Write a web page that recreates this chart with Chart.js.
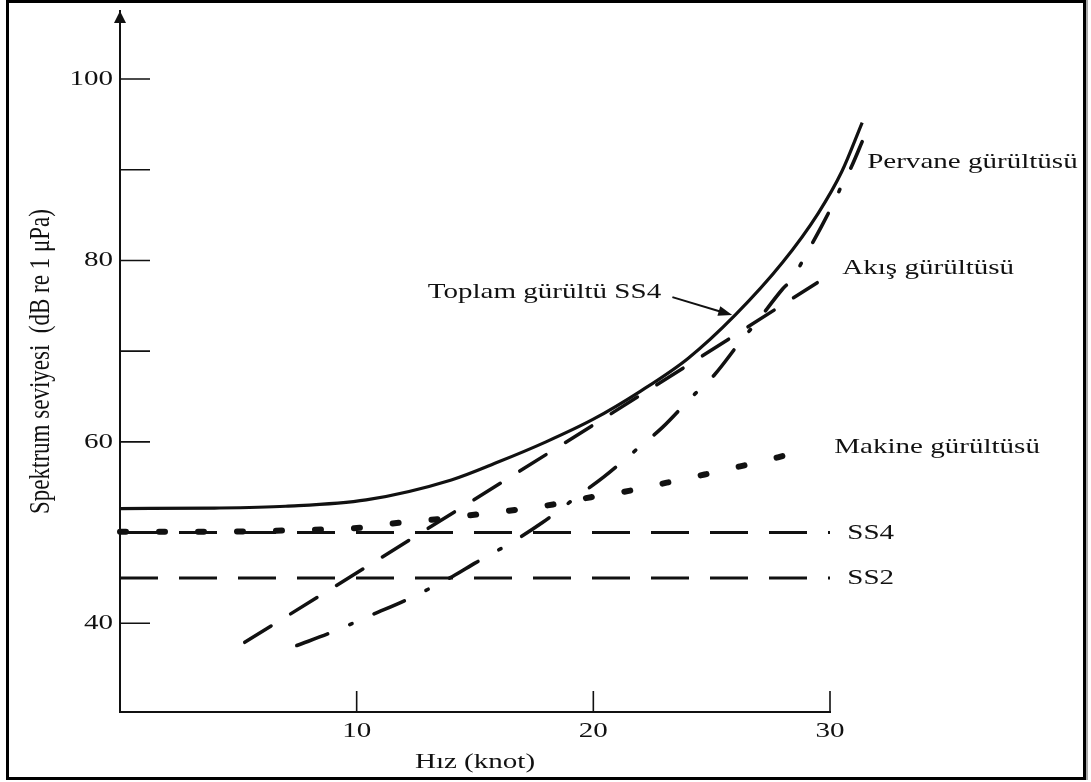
<!DOCTYPE html>
<html>
<head>
<meta charset="utf-8">
<script src="https://cdn.jsdelivr.net/npm/chart.js@4.4.1/dist/chart.umd.min.js"></script>
<style>
  html, body { margin: 0; padding: 0; background: #fff; }
  #wrap { position: relative; width: 1091px; height: 782px; }
  #frame { position: absolute; left: 6px; top: 0; width: 1080px; height: 780px; box-sizing: border-box;
           border: 3px solid #000; box-shadow: 2px 0 0 #aaa; pointer-events: none; }
</style>
</head>
<body>
<div id="wrap">
  <canvas id="noiseChart" width="1091" height="782"></canvas>
  <div id="frame"></div>
</div>
<script>
// hız (knot) / seviye (dB) okumaları
const toplamSpeed = [0, 4, 7, 10.4, 14, 16, 18, 20, 22, 24, 26, 28, 29.5, 30.5, 31.36];
const toplamLevel = [52.65, 52.7, 52.9, 53.6, 55.8, 57.8, 60.0, 62.5, 65.6, 69.2, 74.0, 79.8, 85.2, 89.8, 95.2];

const pervaneSpeed = [7.47, 8.94, 10.67, 12.03, 14.05, 14.98, 16.6, 17.85, 19.33, 20.47, 21.82, 22.92, 24.14, 25.12, 26.17, 26.93, 27.98, 28.37, 29.21, 29.63, 30.18, 30.52, 30.9, 31.36];
const pervaneLevel = [37.55, 39.0, 40.97, 42.5, 45.16, 46.6, 49.0, 51.1, 54.0, 56.2, 59.15, 61.6, 64.9, 67.4, 70.9, 73.3, 76.8, 77.9, 81.7, 83.7, 86.5, 88.4, 90.3, 93.1];

const akisSpeed = [5.27, 10.34, 16.11, 19.96, 24.5, 29.46];
const akisLevel = [37.9, 46.1, 55.5, 61.8, 69.3, 77.55];

const makineSpeed = [0, 4, 8, 10, 11.5, 13.5, 15.1, 16.7, 18.3, 19.9, 21.5, 23.1, 24.7, 26.2, 27.8, 29.3];
const makineLevel = [50.1, 50.1, 50.3, 50.5, 51.0, 51.5, 52.0, 52.5, 53.1, 53.9, 54.6, 55.5, 56.4, 57.3, 58.3, 59.4];

const ss4Speed = [0, 30];
const ss4Level = [50, 50];
const ss2Speed = [0, 30];
const ss2Level = [45, 45];

const xTicks = [10, 20, 30];
const xTickLabels = ['10', '20', '30'];
const yTicks = [40, 50, 60, 70, 80, 90, 100];
const yTickLabels = ['40', '', '60', '', '80', '', '100'];

// yazılar (veri koordinatlarında)
const notes = [
  { text: 'Pervane gürültüsü', x: 31.57, y: 90.85 },
  { text: 'Akış gürültüsü', x: 30.52, y: 79.16 },
  { text: 'Toplam gürültü SS4', x: 13.0, y: 76.52 },
  { text: 'Makine gürültüsü', x: 30.18, y: 59.43 },
  { text: 'SS4', x: 30.73, y: 49.95 },
  { text: 'SS2', x: 30.73, y: 44.99 }
];
const pointerFrom = [23.34, 75.96];
const pointerTo = [25.87, 73.98];

const ink = '#111';
const serif = "'Liberation Serif', 'Times New Roman', serif";
const STRETCH = 1.32; // orijinal görselde yazılar yatayda gerilmiş

const toPoints = (xs, ys) => xs.map((v, i) => ({ x: v, y: ys[i] }));

const canvas = document.getElementById('noiseChart');
const ctx2d = canvas.getContext('2d');
const rawFill = ctx2d.fillText;
ctx2d.fillText = function (t, x, y, w) {
  const m = this.getTransform();
  const p = m.transformPoint(new DOMPoint(x, y));
  this.save();
  this.setTransform(new DOMMatrix().translate(p.x, p.y).scale(STRETCH, 1).translate(-p.x, -p.y).multiply(m));
  if (w === undefined) rawFill.call(this, t, x, y); else rawFill.call(this, t, x, y, w);
  this.restore();
};

const figurePlugin = {
  id: 'figure',
  beforeDatasetsDraw(chart) {
    const { ctx, chartArea, scales: { x, y } } = chart;
    const x0 = x.getPixelForValue(0);
    const yb = chartArea.bottom;
    ctx.save();
    ctx.strokeStyle = ink;
    ctx.lineWidth = 1.6;
    ctx.beginPath();
    y.ticks.forEach(t => {
      const py = y.getPixelForValue(t.value);
      ctx.moveTo(x0, py); ctx.lineTo(x0 + 30, py);
    });
    x.ticks.forEach(t => {
      const px = x.getPixelForValue(t.value);
      ctx.moveTo(px, yb); ctx.lineTo(px, yb - 21);
    });
    ctx.stroke();
    // eksen oku
    ctx.fillStyle = ink;
    ctx.beginPath();
    ctx.moveTo(x0, chartArea.top);
    ctx.lineTo(x0 - 6, chartArea.top + 12);
    ctx.lineTo(x0 + 6, chartArea.top + 12);
    ctx.closePath();
    ctx.fill();
    ctx.restore();
  },
  afterDraw(chart) {
    const { ctx, scales: { x, y } } = chart;
    ctx.save();
    ctx.fillStyle = ink;
    ctx.font = '22px ' + serif;
    ctx.textAlign = 'left';
    ctx.textBaseline = 'middle';
    notes.forEach(n => ctx.fillText(n.text, x.getPixelForValue(n.x), y.getPixelForValue(n.y)));

    const ax = x.getPixelForValue(pointerFrom[0]), ay = y.getPixelForValue(pointerFrom[1]);
    const bx = x.getPixelForValue(pointerTo[0]), by = y.getPixelForValue(pointerTo[1]);
    const ang = Math.atan2(by - ay, bx - ax);
    ctx.strokeStyle = ink;
    ctx.lineWidth = 2;
    ctx.beginPath();
    ctx.moveTo(ax, ay);
    ctx.lineTo(bx - 10 * Math.cos(ang), by - 10 * Math.sin(ang));
    ctx.stroke();
    ctx.beginPath();
    ctx.moveTo(bx, by);
    ctx.lineTo(bx - 14 * Math.cos(ang) + 5 * Math.sin(ang), by - 14 * Math.sin(ang) - 5 * Math.cos(ang));
    ctx.lineTo(bx - 14 * Math.cos(ang) - 5 * Math.sin(ang), by - 14 * Math.sin(ang) + 5 * Math.cos(ang));
    ctx.closePath();
    ctx.fill();
    ctx.restore();
  }
};

const lineBase = { borderColor: ink, pointRadius: 0, fill: false, clip: false, borderJoinStyle: 'round' };

new Chart(canvas, {
  type: 'line',
  data: {
    datasets: [
      { ...lineBase, label: 'SS2', data: toPoints(ss2Speed, ss2Level), borderWidth: 3, borderDash: [38, 21] },
      { ...lineBase, label: 'SS4', data: toPoints(ss4Speed, ss4Level), borderWidth: 3, borderDash: [38, 21] },
      { ...lineBase, label: 'Makine gürültüsü', data: toPoints(makineSpeed, makineLevel), borderWidth: 6,
        borderDash: [6, 33], borderCapStyle: 'round', cubicInterpolationMode: 'monotone' },
      { ...lineBase, label: 'Akış gürültüsü', data: toPoints(akisSpeed, akisLevel), borderWidth: 3.5,
        borderDash: [31, 23], borderCapStyle: 'round', tension: 0 },
      { ...lineBase, label: 'Pervane gürültüsü', data: toPoints(pervaneSpeed, pervaneLevel), borderWidth: 3.6,
        borderDash: [33, 24, 2.5, 24], borderCapStyle: 'round', cubicInterpolationMode: 'monotone' },
      { ...lineBase, label: 'Toplam gürültü SS4', data: toPoints(toplamSpeed, toplamLevel), borderWidth: 3.2,
        cubicInterpolationMode: 'monotone' }
    ]
  },
  options: {
    responsive: false,
    animation: false,
    events: [],
    layout: { padding: { left: 0, right: 261, top: 11, bottom: 0 } },
    plugins: { legend: { display: false }, tooltip: { enabled: false } },
    scales: {
      x: {
        type: 'linear',
        bounds: 'data',
        afterDataLimits: s => { s.min = 0; s.max = 30; },
        afterBuildTicks: s => { s.ticks = xTicks.map(v => ({ value: v })); },
        afterFit: s => { s.height = 70; s.paddingLeft = 0; s.paddingRight = 0; },
        grid: { display: false, drawTicks: false },
        border: { display: true, color: ink, width: 2 },
        ticks: {
          padding: 6, color: ink, font: { family: serif, size: 22 },
          callback: (v, i) => xTickLabels[i]
        },
        title: {
          display: true, text: 'Hız (knot)', color: ink,
          font: { family: serif, size: 22 }, padding: { top: 0, bottom: 7 }
        }
      },
      y: {
        min: 30.22,
        max: 107.5,
        afterBuildTicks: s => { s.ticks = yTicks.map(v => ({ value: v })); },
        afterFit: s => { s.width = 120; s.paddingTop = 0; s.paddingBottom = 0; },
        grid: { display: false, drawTicks: false },
        border: { display: true, color: ink, width: 2 },
        ticks: {
          padding: 7, color: ink, font: { family: serif, size: 22 },
          callback: (v, i) => yTickLabels[i]
        },
        title: {
          display: true, text: 'Spektrum seviyesi  (dB re 1 μPa)', color: ink,
          font: { family: serif, size: 23 }, padding: { top: 27, bottom: 0 }
        }
      }
    }
  },
  plugins: [figurePlugin]
});
</script>
</body>
</html>
